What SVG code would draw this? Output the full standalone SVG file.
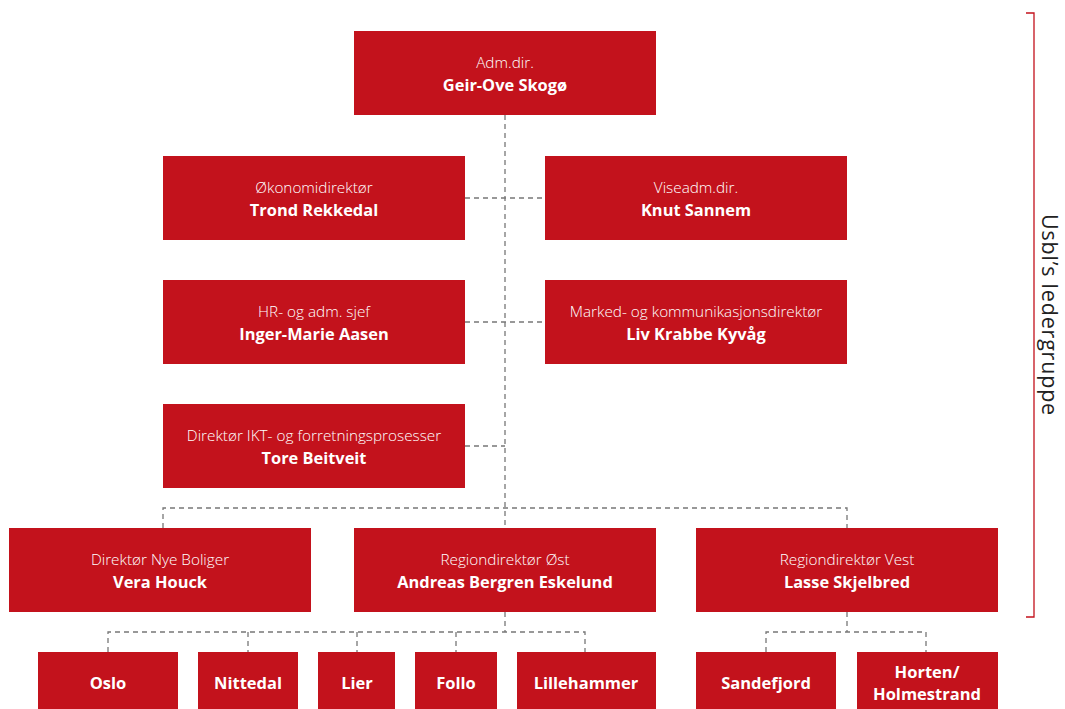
<svg xmlns="http://www.w3.org/2000/svg" width="1065" height="709" viewBox="0 0 1065 709">
<style>
.box{fill:#c3121c}
.t{font-family:"Open Sans","Liberation Sans",sans-serif;font-size:15.3px;font-weight:300;fill:#fff;text-anchor:middle}
.n{font-family:"Open Sans","Liberation Sans",sans-serif;font-size:16.4px;font-weight:700;fill:#fff;text-anchor:middle}
.b{font-family:"Open Sans","Liberation Sans",sans-serif;font-size:16.5px;font-weight:700;fill:#fff;text-anchor:middle}
.c{fill:none;stroke:#777;stroke-width:1.3;stroke-dasharray:5 4}
</style>
<rect width="1065" height="709" fill="#fff"/>
<g id="connectors">
<path class="c" d="M505 115V528"/>
<path class="c" d="M465 198H545M465 322H545M465 446H505"/>
<path class="c" d="M163 528V508H847V528"/>
<path class="c" d="M505 612V632M108 652V632H585V652M248 632V652M357 632V652M456 632V652"/>
<path class="c" d="M847 612V632M766 652V632H926V652"/>
</g>
<g id="bracket">
<path d="M1026 13H1034V617H1026" fill="none" stroke="#c3121c" stroke-width="1.3"/>
<text transform="translate(1042 315) rotate(90)" font-family="'Open Sans','Liberation Sans',sans-serif" font-size="21.5" letter-spacing="0.8" fill="#222" text-anchor="middle">Usbl’s ledergruppe</text>
</g>
<g id="n-adm"><rect class="box" x="354" y="31" width="302" height="84"/><text class="t" x="505" y="68">Adm.dir.</text><text class="n" x="505" y="91">Geir-Ove Skogø</text></g>
<g id="n-okonomi"><rect class="box" x="163" y="156" width="302" height="84"/><text class="t" x="314" y="193">Økonomidirektør</text><text class="n" x="314" y="216">Trond Rekkedal</text></g>
<g id="n-viseadm"><rect class="box" x="545" y="156" width="302" height="84"/><text class="t" x="696" y="193">Viseadm.dir.</text><text class="n" x="696" y="216">Knut Sannem</text></g>
<g id="n-hr"><rect class="box" x="163" y="280" width="302" height="84"/><text class="t" x="314" y="317">HR- og adm. sjef</text><text class="n" x="314" y="340">Inger-Marie Aasen</text></g>
<g id="n-marked"><rect class="box" x="545" y="280" width="302" height="84"/><text class="t" x="696" y="317">Marked- og kommunikasjonsdirektør</text><text class="n" x="696" y="340">Liv Krabbe Kyvåg</text></g>
<g id="n-ikt"><rect class="box" x="163" y="404" width="302" height="84"/><text class="t" x="314" y="441">Direktør IKT- og forretningsprosesser</text><text class="n" x="314" y="464">Tore Beitveit</text></g>
<g id="n-nye"><rect class="box" x="9" y="528" width="302" height="84"/><text class="t" x="160" y="565">Direktør Nye Boliger</text><text class="n" x="160" y="588">Vera Houck</text></g>
<g id="n-ost"><rect class="box" x="354" y="528" width="302" height="84"/><text class="t" x="505" y="565">Regiondirektør Øst</text><text class="n" x="505" y="588">Andreas Bergren Eskelund</text></g>
<g id="n-vest"><rect class="box" x="696" y="528" width="302" height="84"/><text class="t" x="847" y="565">Regiondirektør Vest</text><text class="n" x="847" y="588">Lasse Skjelbred</text></g>
<g id="n-oslo"><rect class="box" x="38" y="652" width="140" height="57"/><text class="b" x="108" y="689">Oslo</text></g>
<g id="n-nittedal"><rect class="box" x="198" y="652" width="100" height="57"/><text class="b" x="248" y="689">Nittedal</text></g>
<g id="n-lier"><rect class="box" x="318" y="652" width="77" height="57"/><text class="b" x="357" y="689">Lier</text></g>
<g id="n-follo"><rect class="box" x="415" y="652" width="82" height="57"/><text class="b" x="456" y="689">Follo</text></g>
<g id="n-lillehammer"><rect class="box" x="517" y="652" width="139" height="57"/><text class="b" x="586" y="689">Lillehammer</text></g>
<g id="n-sandefjord"><rect class="box" x="696" y="652" width="140" height="57"/><text class="b" x="766" y="689">Sandefjord</text></g>
<g id="n-horten"><rect class="box" x="857" y="652" width="141" height="57"/><text class="b" x="927" y="678">Horten/</text><text class="b" x="927" y="700">Holmestrand</text></g>
</svg>
